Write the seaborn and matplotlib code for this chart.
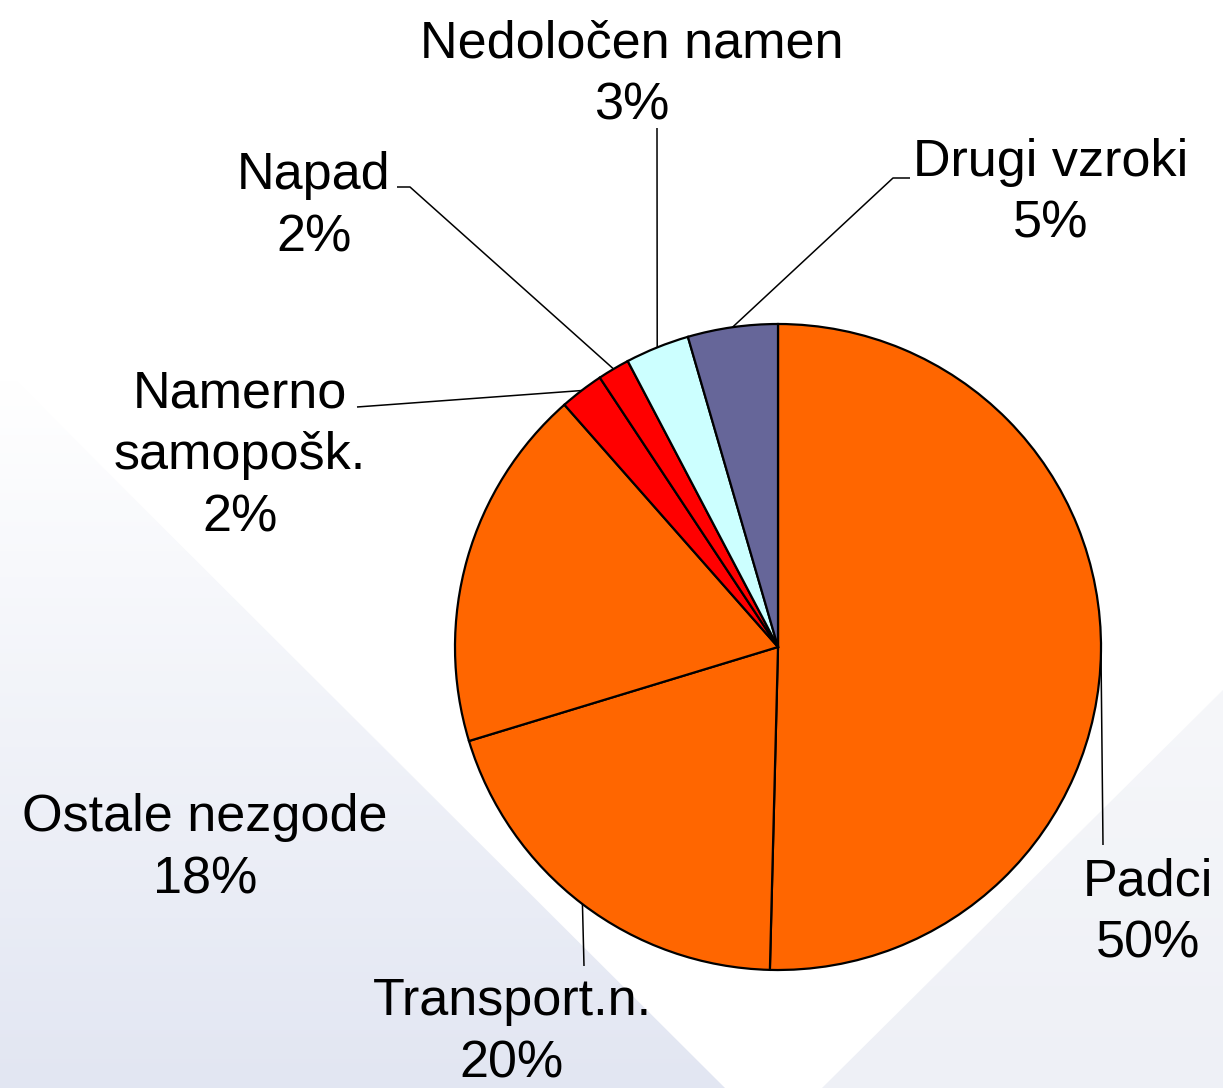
import numpy as np
import matplotlib
matplotlib.use("Agg")
import matplotlib.pyplot as plt
import seaborn as sns
from matplotlib.patches import Polygon
from matplotlib.colors import to_rgb

# ---------------- data ----------------
categories = ["Padci", "Transport.n.", "Ostale nezgode", "Namerno\nsamopošk.",
              "Napad", "Nedoločen namen", "Drugi vzroki"]
shares = [50.4, 19.9, 18.2, 2.2, 1.6, 3.2, 4.5]
pct_labels = ["50%", "20%", "18%", "2%", "2%", "3%", "5%"]
colors = ["#FF6600", "#FF6600", "#FF6600", "#FF0000", "#FF0000", "#CCFFFF", "#666699"]

# ---------------- style ----------------
sns.set_style("white")
plt.rcParams['font.family'] = ['Liberation Sans', 'DejaVu Sans']

W, H = 1223, 1088
fig = plt.figure(figsize=(W / 100, H / 100), dpi=100)
ax = fig.add_axes([0, 0, 1, 1])


def Y(y):
    return H - y


# ---------------- background (light lavender triangles) ----------------
def gradient_patch(poly_px, c_top, c_bot, y0, y1):
    yy = np.linspace(0, H, 300)[:, None]
    t = np.clip((yy - y0) / (y1 - y0), 0, 1)
    ct, cb = np.array(to_rgb(c_top)), np.array(to_rgb(c_bot))
    img = ct[None, None, :] * (1 - t[:, :, None]) + cb[None, None, :] * t[:, :, None]
    img = np.repeat(img, 2, axis=1)
    im = ax.imshow(img, extent=(0, W, 0, H), origin='upper', aspect='auto', zorder=0)
    poly = Polygon([(x, Y(y)) for x, y in poly_px], closed=True,
                   facecolor='none', edgecolor='none', transform=ax.transData)
    ax.add_patch(poly)
    im.set_clip_path(poly)


gradient_patch([(0, 365), (725, 1088), (0, 1088)], "#FFFFFF", "#E2E6F2", 380, 1088)
gradient_patch([(822, 1088), (1223, 690), (1223, 1088)], "#F6F7FA", "#EEF0F6", 690, 1088)

# ---------------- pie ----------------
cx, cy, R = 778, 647, 323
wedges, _ = ax.pie(shares, colors=colors, startangle=90, counterclock=False,
                   center=(cx, Y(cy)), radius=R, frame=True,
                   wedgeprops=dict(edgecolor='black', linewidth=1.6, zorder=2))

ax.set_xlim(0, W)
ax.set_ylim(0, H)
ax.set_aspect('auto')
ax.axis('off')

# ---------------- labels & leader lines (layout) ----------------
layout = {
    "Padci":             dict(x=1148, base=895, path=[(1103, 845)]),
    "Transport.n.":      dict(x=512, base=1015, path=[(584, 966)]),
    "Ostale nezgode":    dict(x=205, base=831, path=None),
    "Namerno\nsamopošk.": dict(x=240, base=407, path=[(357, 407)]),
    "Napad":             dict(x=314, base=189, path=[(410, 187), (397, 187)]),
    "Nedoločen namen":   dict(x=632, base=57, path=[(657, 128)]),
    "Drugi vzroki":      dict(x=1051, base=176, path=[(893, 178), (910, 178)]),
}
LS = 62
FS = 37.5

for w, name, pct in zip(wedges, categories, pct_labels):
    lay = layout[name]
    lines = name.split("\n") + [pct]
    for i, ln in enumerate(lines):
        ax.text(lay["x"], Y(lay["base"] + i * LS), ln, ha='center', va='baseline',
                fontsize=FS, color='black', zorder=4)
    if lay["path"]:
        th = np.deg2rad((w.theta1 + w.theta2) / 2)
        ax_x = cx + R * np.cos(th)
        ax_y = Y(cy) + R * np.sin(th)
        xs = [ax_x] + [p[0] for p in lay["path"]]
        ys = [ax_y] + [Y(p[1]) for p in lay["path"]]
        ax.plot(xs, ys, color='black', linewidth=1.1, zorder=3,
                solid_capstyle='butt')

fig.savefig("out.png", dpi=100)
